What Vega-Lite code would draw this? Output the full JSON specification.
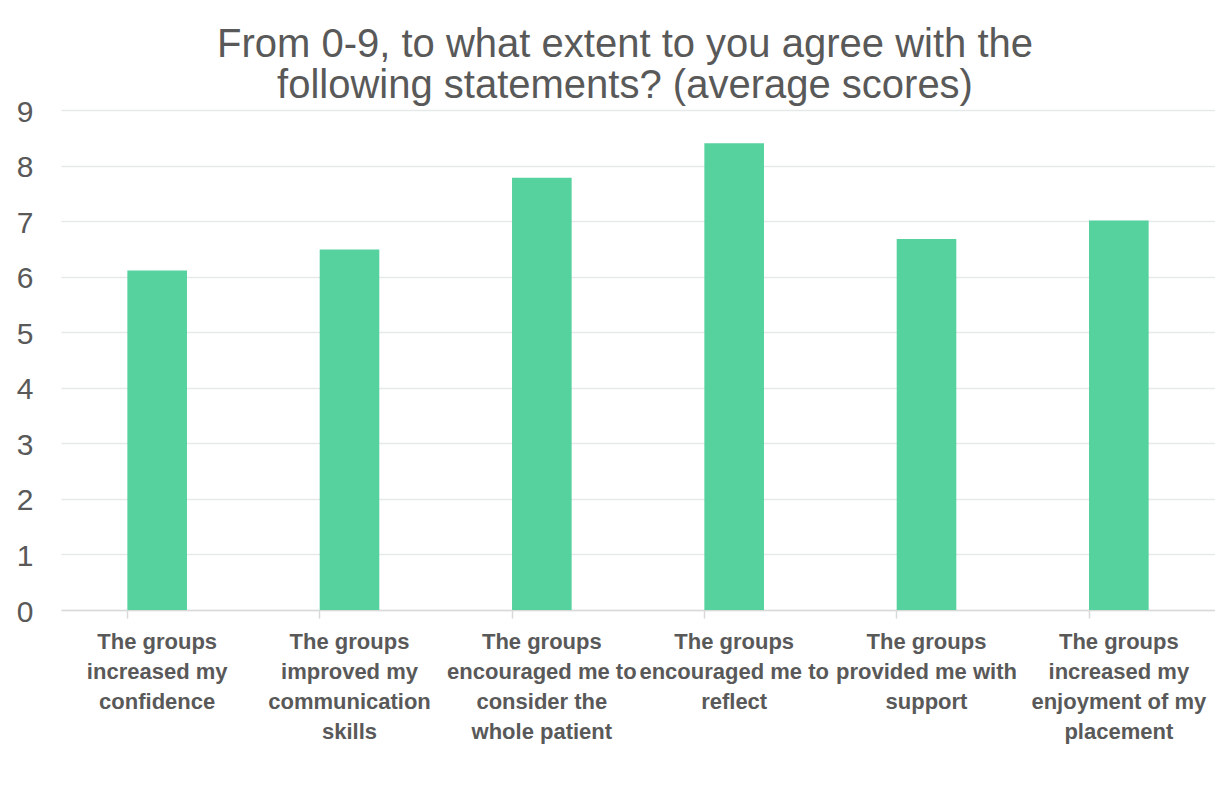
{
  "$schema": "https://vega.github.io/schema/vega-lite/v6.json",
  "autosize": {"type": "none"},
  "width": 1154,
  "height": 500,
  "padding": {"left": 61, "top": 110, "right": 0, "bottom": 195},
  "background": "white",
  "title": {
    "text": ["From 0-9, to what extent to you agree with the", "following statements? (average scores)"],
    "font": "Liberation Sans",
    "fontSize": 40,
    "fontWeight": "normal",
    "color": "#595959",
    "lineHeight": 41,
    "anchor": "middle",
    "dx": -13,
    "dy": 15,
    "offset": 6
  },
  "data": {
    "values": [
      {"statement": "The groups|increased my|confidence", "score": 6.11},
      {"statement": "The groups|improved my|communication|skills", "score": 6.49},
      {"statement": "The groups|encouraged me to|consider the|whole patient", "score": 7.78},
      {"statement": "The groups|encouraged me to|reflect", "score": 8.4},
      {"statement": "The groups|provided me with|support", "score": 6.68},
      {"statement": "The groups|increased my|enjoyment of my|placement", "score": 7.01}
    ]
  },
  "mark": {"type": "bar", "color": "#56D29F"},
  "encoding": {
    "x": {
      "field": "statement",
      "type": "nominal",
      "sort": null,
      "scale": {"paddingInner": 0.69, "paddingOuter": 0.345},
      "axis": {
        "title": null,
        "labelExpr": "split(datum.label, '|')",
        "labelAngle": 0,
        "labelFont": "Liberation Sans",
        "labelFontSize": 22,
        "labelFontWeight": "bold",
        "labelColor": "#595959",
        "labelLineHeight": 30,
        "labelPadding": 13,
        "labelLimit": 0,
        "bandPosition": 0,
        "tickSize": 8,
        "tickColor": "#d9d9d9",
        "tickWidth": 1.5,
        "domainColor": "#d9d9d9",
        "domainWidth": 1.5,
        "grid": false
      }
    },
    "y": {
      "field": "score",
      "type": "quantitative",
      "scale": {"domain": [0, 9], "nice": false},
      "axis": {
        "title": null,
        "values": [0, 1, 2, 3, 4, 5, 6, 7, 8, 9],
        "domain": false,
        "ticks": false,
        "labelFont": "Liberation Sans",
        "labelFontSize": 30,
        "labelColor": "#595959",
        "labelPadding": 28,
        "labelAlign": "right",
        "labelBaseline": "middle",
        "labelOffset": 2,
        "labelFlush": false,
        "labelOverlap": false,
        "gridColor": "#e6e9e9",
        "gridWidth": 1.5
      }
    }
  },
  "config": {"view": {"stroke": null}}
}
